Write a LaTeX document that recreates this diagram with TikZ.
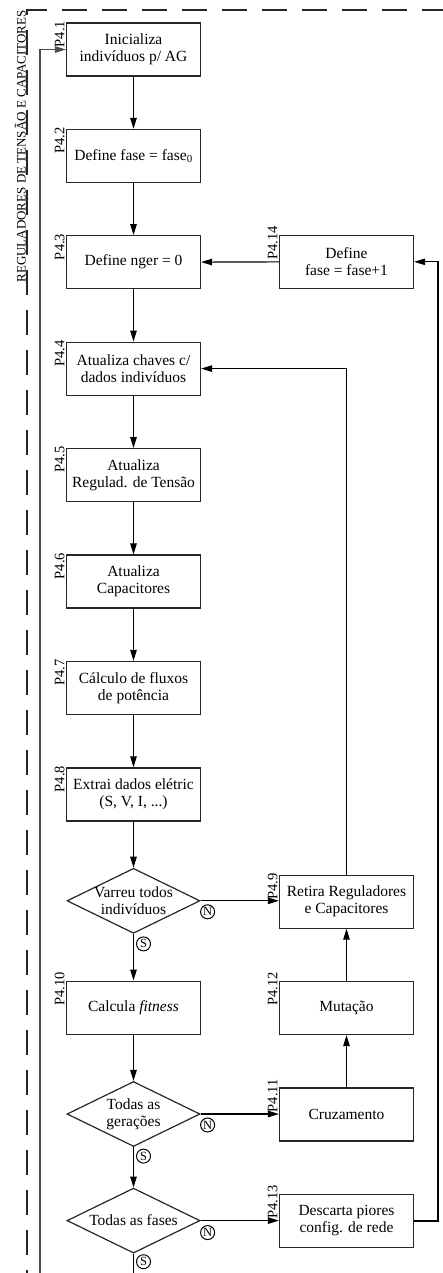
\documentclass[tikz,border=0pt]{standalone}
\usepackage{fontspec}
\setmainfont{Liberation Serif}
\usetikzlibrary{arrows.meta,shapes.geometric,calc}

\begin{document}
\begin{tikzpicture}[x=1pt,y=-1pt,
  stepbox/.style={draw=black!85, line width=1.2pt, minimum width=134pt, minimum height=53pt,
    inner sep=0pt, align=center, font=\fontsize{15.5}{17}\selectfont},
  decbox/.style={draw=black!85, line width=1.2pt, shape=diamond, minimum width=133pt,
    minimum height=65pt, inner sep=0pt},
  dectext/.style={align=center, inner sep=0pt, font=\fontsize{15.5}{17}\selectfont},
  tag/.style={rotate=90, anchor=base west, inner sep=0pt, font=\fontsize{14.5}{16}\selectfont},
  flow/.style={line width=1.1pt, -{Triangle[length=11pt,width=6.5pt]}},
  plain/.style={line width=1.1pt},
  answer/.style={circle, draw, line width=1pt, inner sep=0pt, minimum size=14pt,
    font=\fontsize{12.5}{12.5}\selectfont},
]
\useasboundingbox (0,0) rectangle (443,1273);

% dashed frame and its title
\draw[dash pattern=on 25pt off 15pt, dash phase=4pt, line width=1.2pt, black!85]
  (443,10) -- (27,10) -- (27,1273);
\node[rotate=90, anchor=base east, inner sep=0pt, font=\fontsize{13}{13}\selectfont] (title)
  at (25.5,10) {REGULADORES DE TENSÃO E CAPACITORES};

% main column
\node[stepbox] (p1)  at (133.5,49.5)  {Inicializa\\indivíduos p/ AG};
\node[stepbox] (p2)  at (133.5,155.9) {Define fase = fase\textsubscript{0}};
\node[stepbox] (p3)  at (133.5,262.2) {Define nger = 0};
\node[stepbox] (p4)  at (133.5,368.6) {Atualiza chaves c/\\dados indivíduos};
\node[stepbox] (p5)  at (133.5,475.1) {Atualiza\\Regulad. de Tensão};
\node[stepbox] (p6)  at (133.5,581.5) {Atualiza\\Capacitores};
\node[stepbox] (p7)  at (133.5,688.0) {Cálculo de fluxos\\de potência};
\node[stepbox] (p8)  at (133.5,794.4) {Extrai dados elétric\\(S, V, I, ...)};
\node[decbox]  (d1)  at (133.5,900.8) {};
\node[dectext] (d1t) at (d1) {Varreu todos\\indivíduos};
\node[stepbox] (p10) at (133.5,1007.6) {Calcula \textit{fitness}};
\node[decbox]  (d2)  at (133.5,1114.0) {};
\node[dectext] (d2t) at (d2) {Todas as\\gerações};
\node[decbox]  (d3)  at (133.5,1220.6) {};
\node[dectext] (d3t) at (d3) {Todas as fases};

% right column
\node[stepbox] (p14) at (346.5,261.8)  {Define\\fase = fase+1};
\node[stepbox] (p9)  at (346.5,901.6)  {Retira Reguladores\\e Capacitores};
\node[stepbox] (p12) at (346.5,1008.0) {Mutação};
\node[stepbox] (p11) at (346.5,1114.4) {Cruzamento};
\node[stepbox] (p13) at (346.5,1221.0) {Descarta piores\\config. de rede};

% step tags
\foreach \b/\t in {p1/P4.1, p2/P4.2, p3/P4.3, p4/P4.4, p5/P4.5, p6/P4.6, p7/P4.7,
                   p8/P4.8, p9/P4.9, p10/P4.10, p11/P4.11, p12/P4.12, p13/P4.13, p14/P4.14}
  \node[tag] (tag-\b) at ($(\b.west)+(-1.5,-2)$) {\t};

% helper points on the outer edges
\coordinate (rr) at (438,0);
\coordinate (bot) at (0,1273);
\coordinate (loopbot) at (40,1273);

% connectors
\draw[flow] (p1) -- (p2);
\draw[flow] (p2) -- (p3);
\draw[flow] (p3) -- (p4);
\draw[flow] (p4) -- (p5);
\draw[flow] (p5) -- (p6);
\draw[flow] (p6) -- (p7);
\draw[flow] (p7) -- (p8);
\draw[flow] (p8) -- (d1);
\draw[flow] (d1) -- (p10);
\draw[flow] (p10) -- (d2);
\draw[flow] (d2) -- (d3);
\draw[plain] (d3.south) -- (d3.south |- bot);

\draw[flow] (d1.east) -- (d1.east -| p9.west);
\draw[flow] (d2.east) -- (d2.east -| p11.west);
\draw[flow] (d3.east) -- (d3.east -| p13.west);
\draw[flow] (p11) -- (p12);
\draw[flow] (p12) -- (p9);
\draw[flow] (p9.north) |- (p4.east);
\draw[flow] (p13.east) -- (p13.east -| rr) |- (p14.east);
\draw[flow] (p14) -- (p3);
\draw[flow, draw=black!70] (loopbot) |- (p1.west);

% yes / no marks
\node[answer] (n1) at ($(d1.east)+(7,11)$) {N};
\node[answer] (s1) at ($(d1.south)+(10,10)$) {S};
\node[answer] (n2) at ($(d2.east)+(7,11)$) {N};
\node[answer] (s2) at ($(d2.south)+(10,9)$) {S};
\node[answer] (n3) at ($(d3.east)+(7,12)$) {N};
\node[answer] (s3) at ($(d3.south)+(10,8)$) {S};
\end{tikzpicture}
\end{document}
